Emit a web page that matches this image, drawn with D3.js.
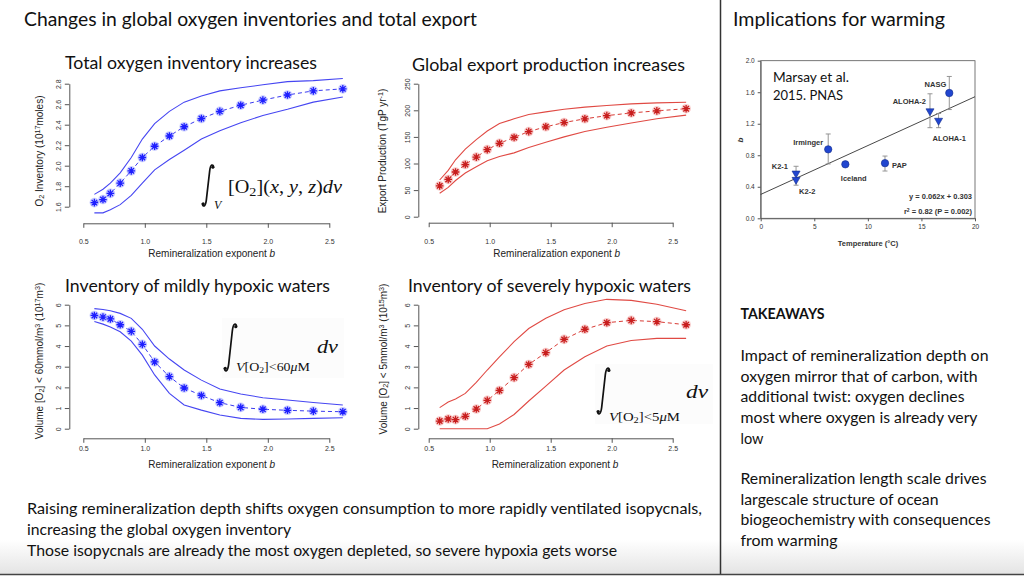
<!DOCTYPE html>
<html><head><meta charset="utf-8">
<script src="https://cdn.jsdelivr.net/npm/d3@7"></script>
<style>body{margin:0;background:#fff}svg{display:block}</style>
</head><body>
<svg id="s" width="1024" height="576"></svg>
<script>
// ---------- data ----------
const bValues = [0.59, 0.66, 0.72, 0.80, 0.89, 0.98, 1.08, 1.20, 1.32, 1.46, 1.61, 1.78, 1.96, 2.16, 2.37, 2.61];
const bTicks = [0.5, 1.0, 1.5, 2.0, 2.5];

const o2Mean  = [1.64, 1.67, 1.73, 1.83, 1.95, 2.08, 2.19, 2.29, 2.38, 2.46, 2.53, 2.59, 2.64, 2.69, 2.73, 2.75];
const o2Upper = [1.72, 1.77, 1.83, 1.93, 2.08, 2.26, 2.41, 2.53, 2.62, 2.68, 2.73, 2.76, 2.79, 2.82, 2.83, 2.85];
const o2Lower = [1.54, 1.54, 1.57, 1.62, 1.71, 1.83, 1.96, 2.06, 2.15, 2.26, 2.34, 2.42, 2.49, 2.55, 2.62, 2.67];
const o2Ticks = [1.6, 1.8, 2.0, 2.2, 2.4, 2.6, 2.8];

const exportMean  = [58, 70, 84, 98, 112, 126, 138, 149, 160, 169, 177, 184, 190, 195, 199, 203];
const exportUpper = [69, 87, 107, 127, 145, 161, 175, 184, 192, 197, 202, 206, 209, 212, 214, 215];
const exportLower = [44, 55, 68, 82, 94, 105, 113, 120, 130, 140, 150, 160, 168, 176, 184, 191];
const exportTicks = [0, 50, 100, 150, 200, 250];

const mildMean  = [5.48, 5.40, 5.31, 5.03, 4.71, 4.08, 3.23, 2.52, 1.97, 1.61, 1.26, 1.03, 0.94, 0.89, 0.85, 0.82];
const mildUpper = [5.81, 5.77, 5.71, 5.58, 5.34, 4.81, 4.00, 3.37, 2.84, 2.35, 1.92, 1.68, 1.50, 1.39, 1.27, 1.15];
const mildLower = [5.19, 5.06, 4.92, 4.69, 4.24, 3.56, 2.60, 1.71, 1.15, 0.90, 0.66, 0.50, 0.45, 0.47, 0.50, 0.53];

const severeMean  = [0.37, 0.47, 0.44, 0.60, 0.95, 1.37, 1.85, 2.47, 3.11, 3.68, 4.32, 4.81, 5.13, 5.24, 5.18, 5.03];
const severeUpper = [1.02, 1.29, 1.44, 1.71, 2.24, 2.84, 3.47, 4.21, 4.85, 5.34, 5.76, 6.06, 6.26, 6.21, 6.02, 5.71];
const severeLower = [0.00, 0.00, 0.00, 0.00, 0.00, 0.00, 0.23, 0.69, 1.34, 2.06, 2.84, 3.48, 4.00, 4.27, 4.37, 4.37];
const volTicks = [0, 1, 2, 3, 4, 5, 6];

const sites   = ["K2-1", "K2-2", "Irminger", "Iceland", "PAP", "ALOHA-2", "ALOHA-1", "NASG"];
const temps   = [3.3, 3.3, 6.3, 7.9, 11.6, 15.8, 16.6, 17.6];
const bObs    = [0.57, 0.49, 0.875, 0.685, 0.70, 1.36, 1.24, 1.59];
const errHi   = [0.66, null, 1.07, null, 0.79, 1.58, 1.33, 1.80];
const errLo   = [null, 0.42, 0.69, null, 0.60, 1.15, 1.15, 1.38];
const siteShape = ["tri", "tri", "circle", "circle", "circle", "tri", "tri", "circle"];
const tempTicks = [0, 5, 10, 15, 20];
const bObsTicks = [0.0, 0.4, 0.8, 1.2, 1.6, 2.0];
const fitSlope = 0.062, fitIntercept = 0.303;

// ---------- layout / style ----------
const svg = d3.select('#s');
const SLIDE_FONT = 'Lato, "Open Sans", sans-serif';
const PLOT_FONT = '"Liberation Sans", Arial, sans-serif';
const SERIF = '"Liberation Serif", "DejaVu Serif", serif';

const defs = svg.append('defs');
const grad = defs.append('linearGradient').attr('id', 'bg').attr('x1', 0).attr('y1', 0).attr('x2', 0).attr('y2', 1);
grad.append('stop').attr('offset', '0%').attr('stop-color', '#ffffff');
grad.append('stop').attr('offset', '100%').attr('stop-color', '#e4e4e4');
svg.append('rect').attr('width', 1024).attr('height', 576).attr('fill', '#fff');
svg.append('rect').attr('x', 0).attr('y', 540).attr('width', 1024).attr('height', 34).attr('fill', 'url(#bg)');
svg.append('line').attr('x1', 720.5).attr('x2', 720.5).attr('y1', 0).attr('y2', 574).attr('stroke', '#333').attr('stroke-width', 1.5);
svg.append('line').attr('x1', 0).attr('x2', 1024).attr('y1', 574.5).attr('y2', 574.5).attr('stroke', '#444').attr('stroke-width', 1.5);

function slideText(x, y, str, size, width, weight) {
  const t = svg.append('text').attr('x', x).attr('y', y)
    .attr('font-family', SLIDE_FONT).attr('font-size', size).attr('fill', '#111')
    .attr('font-weight', weight || 'normal').text(str);
  if (width) t.attr('textLength', width).attr('lengthAdjust', 'spacingAndGlyphs');
  return t;
}

// main titles
slideText(24, 26, 'Changes in global oxygen inventories and total export', 19.5, 453);
slideText(733, 26, 'Implications for warming', 19.5, 212);

// panel titles
slideText(65, 69, 'Total oxygen inventory increases', 18, 252);
slideText(412, 70.5, 'Global export production increases', 18, 273);
slideText(65, 292, 'Inventory of mildly hypoxic waters', 18, 265);
slideText(408, 292, 'Inventory of severely hypoxic waters', 18, 283);

// bottom text
slideText(27, 514, 'Raising remineralization depth shifts oxygen consumption to more rapidly ventilated isopycnals,', 16, 675);
slideText(27, 535, 'increasing the global oxygen inventory', 16, 264);
slideText(27, 556, 'Those isopycnals are already the most oxygen depleted, so severe hypoxia gets worse', 16, 590);

// takeaways
slideText(740.5, 319, 'TAKEAWAYS', 15.5, 84, 'bold');
const takeaway1 = ['Impact of remineralization depth on', 'oxygen mirror that of carbon, with', 'additional twist: oxygen declines', 'most where oxygen is already very', 'low'];
const takeaway1W = [248, 237, 224, 237, 23];
const takeaway2 = ['Remineralization length scale drives', 'largescale structure of ocean', 'biogeochemistry with consequences', 'from warming'];
const takeaway2W = [246, 198, 250, 97];
takeaway1.forEach((s, i) => slideText(740.5, 361 + i * 20.7, s, 16, takeaway1W[i]));
takeaway2.forEach((s, i) => slideText(740.5, 484 + i * 20.7, s, 16, takeaway2W[i]));

// ---------- panels ----------
const BLUE = { env: '#4646f2', mean: '#3a3af0', mark: '#1e1eff', halo: '#9fa6ff' };
const RED  = { env: '#e04a44', mean: '#d83a34', mark: '#c81e1e', halo: '#f2a2a0' };

const panels = [
  { mean: o2Mean, upper: o2Upper, lower: o2Lower, ticks: o2Ticks, fmt: d3.format('.1f'), col: BLUE,
    xl: 83.3, xr: 329.3, yAxisX: 69.3, xAxisY: 223.3, yb: 206.7, yt: 83.7, pad: 11.5,
    ylab: [['O', 0], ['2', -1], [' Inventory (10', 0], ['17', 1], ['moles)', 0]], ylx: 43, yly: 151,
    xlx: 211.7, xly: 256.5 },
  { mean: exportMean, upper: exportUpper, lower: exportLower, ticks: exportTicks, fmt: d3.format('d'), col: RED,
    xl: 428.7, xr: 672.7, yAxisX: 418.3, xAxisY: 222.7, yb: 216.7, yt: 83.7, pad: 11.5,
    ylab: [['Export Production (TgP yr', 0], ['-1', 1], [')', 0]], ylx: 386, yly: 151,
    xlx: 556.7, xly: 256.5 },
  { mean: mildMean, upper: mildUpper, lower: mildLower, ticks: volTicks, fmt: d3.format('d'), col: BLUE,
    xl: 83.3, xr: 329.3, yAxisX: 69.3, xAxisY: 438.3, yb: 428.7, yt: 304.7, pad: 3.5,
    ylab: [['Volume [O', 0], ['2', -1], ['] < 60mmol/m', 0], ['3', 1], [' (10', 0], ['17', 1], ['m', 0], ['3', 1], [')', 0]], ylx: 42.5, yly: 361,
    xlx: 211.7, xly: 468.3 },
  { mean: severeMean, upper: severeUpper, lower: severeLower, ticks: volTicks, fmt: d3.format('d'), col: RED,
    xl: 428.7, xr: 672.7, yAxisX: 418.3, xAxisY: 438.3, yb: 428.7, yt: 304.7, pad: 3.5,
    ylab: [['Volume [O', 0], ['2', -1], ['] < 5mmol/m', 0], ['3', 1], [' (10', 0], ['15', 1], ['m', 0], ['3', 1], [')', 0]], ylx: 386.5, yly: 359,
    xlx: 555, xly: 468.3 }
];

function richText(g, parts, size) {
  parts.forEach(([s, level]) => {
    const ts = g.append('tspan').text(s);
    if (level !== 0) {
      ts.attr('font-size', size * 0.72).attr('baseline-shift', level > 0 ? '45%' : '-20%');
    }
  });
}

const asterisk = (r) => {
  const a = r * 0.72;
  return `M${-r},0L${r},0M0,${-r}L0,${r}M${-a},${-a}L${a},${a}M${-a},${a}L${a},${-a}`;
};

panels.forEach(p => {
  const x = d3.scaleLinear().domain([bTicks[0], bTicks[bTicks.length - 1]]).range([p.xl, p.xr]);
  const y = d3.scaleLinear().domain([p.ticks[0], p.ticks[p.ticks.length - 1]]).range([p.yb, p.yt]);
  const g = svg.append('g');

  const gx = g.append('g').attr('transform', `translate(0,${p.xAxisY})`)
    .call(d3.axisBottom(x).tickValues(bTicks).tickFormat(d3.format('.1f')).tickSize(4.5).tickSizeOuter(0).tickPadding(p.pad));
  const gy = g.append('g').attr('transform', `translate(${p.yAxisX},0)`)
    .call(d3.axisLeft(y).tickValues(p.ticks).tickFormat(p.fmt).tickSize(4.5).tickSizeOuter(0));
  [gx, gy].forEach(a => {
    a.select('.domain').attr('stroke', '#555').attr('stroke-width', 1);
    a.selectAll('.tick line').attr('stroke', '#555');
    a.selectAll('.tick text').attr('font-family', PLOT_FONT).attr('font-size', 7).attr('fill', '#333');
  });
  gy.selectAll('.tick text').attr('x', null).attr('dy', null)
    .attr('text-anchor', 'middle').attr('transform', 'translate(-8.5,0) rotate(-90)');

  const xt = g.append('text').attr('x', p.xlx).attr('y', p.xly).attr('text-anchor', 'middle')
    .attr('font-family', PLOT_FONT).attr('font-size', 10).attr('fill', '#222');
  xt.append('tspan').text('Remineralization exponent ');
  xt.append('tspan').attr('font-style', 'italic').text('b');

  const yt = g.append('text').attr('text-anchor', 'middle')
    .attr('transform', `translate(${p.ylx},${p.yly}) rotate(-90)`)
    .attr('font-family', PLOT_FONT).attr('font-size', 10).attr('fill', '#222');
  richText(yt, p.ylab, 10);

  const line = d3.line().x((d, i) => x(bValues[i])).y(d => y(d));
  g.append('path').datum(p.upper).attr('d', line).attr('fill', 'none').attr('stroke', p.col.env).attr('stroke-width', 1.1);
  g.append('path').datum(p.lower).attr('d', line).attr('fill', 'none').attr('stroke', p.col.env).attr('stroke-width', 1.1);
  g.append('path').datum(p.mean).attr('d', line).attr('fill', 'none').attr('stroke', p.col.mean)
    .attr('stroke-width', 1).attr('stroke-dasharray', '4,3');

  const mk = g.selectAll('.mk').data(p.mean).enter().append('g')
    .attr('transform', (d, i) => `translate(${x(bValues[i])},${y(d)})`);
  mk.append('circle').attr('r', 4.8).attr('fill', p.col.halo).attr('opacity', 0.55);
  mk.append('path').attr('d', asterisk(3.8)).attr('stroke', p.col.mark).attr('stroke-width', 1.3).attr('fill', 'none');
});

// ---------- integral formulas ----------
function integralSign(x0, y0, x1, y1) {
  const w = x1 - x0, h = y1 - y0;
  const X = f => x0 + f * w, Y = f => y0 + f * h;
  const d = `M${X(0.97)},${Y(0.075)} C${X(0.93)},${Y(0.0)} ${X(0.72)},${Y(-0.01)} ${X(0.64)},${Y(0.16)}` +
            ` L${X(0.36)},${Y(0.84)} C${X(0.28)},${Y(1.01)} ${X(0.07)},${Y(1.0)} ${X(0.03)},${Y(0.925)}`;
  svg.append('path').attr('d', d).attr('fill', 'none').attr('stroke', '#111').attr('stroke-width', 1.7).attr('stroke-linecap', 'round');
  svg.append('circle').attr('cx', X(0.9)).attr('cy', Y(0.075)).attr('r', 1.5).attr('fill', '#111');
  svg.append('circle').attr('cx', X(0.1)).attr('cy', Y(0.925)).attr('r', 1.5).attr('fill', '#111');
}
function mathText(x, y, parts, size, width) {
  const t = svg.append('text').attr('x', x).attr('y', y).attr('font-family', SERIF).attr('font-size', size).attr('fill', '#111');
  parts.forEach(([s, it, level]) => {
    const ts = t.append('tspan').text(s);
    if (it) ts.attr('font-style', 'italic');
    if (level) ts.attr('font-size', size * 0.7).attr('baseline-shift', level > 0 ? '40%' : '-22%');
  });
  if (width) t.attr('textLength', width).attr('lengthAdjust', 'spacingAndGlyphs');
  return t;
}
// total inventory
integralSign(202, 164, 214, 207);
mathText(214, 208.5, [['V', true, 0]], 12);
mathText(228, 193, [['[O', false, 0], ['2', false, -1], ['](', false, 0], ['x', true, 0], [', ', false, 0], ['y', true, 0], [', ', false, 0], ['z', true, 0], [')', false, 0], ['dv', true, 0]], 18, 114);
// mildly hypoxic
svg.append('rect').attr('x', 222).attr('y', 318).attr('width', 122).attr('height', 60).attr('fill', '#fcfcfc');
integralSign(224, 323, 237, 372);
mathText(236, 371, [['V', true, 0], ['[O', false, 0], ['2', false, -1], [']<60', false, 0], ['μ', true, 0], ['M', false, 0]], 11.5, 74);
mathText(317, 353, [['dv', true, 0]], 19, 21);
// severely hypoxic
svg.append('rect').attr('x', 595).attr('y', 364).attr('width', 118).attr('height', 60).attr('fill', '#fcfcfc');
integralSign(597, 367, 610, 415);
mathText(609, 421, [['V', true, 0], ['[O', false, 0], ['2', false, -1], [']<5', false, 0], ['μ', true, 0], ['M', false, 0]], 11.5, 71);
mathText(686, 398, [['dv', true, 0]], 19, 22);

// ---------- scatter (Marsay et al.) ----------
const sx = d3.scaleLinear().domain([tempTicks[0], tempTicks[tempTicks.length - 1]]).range([760.7, 975]);
const sy = d3.scaleLinear().domain([bObsTicks[0], bObsTicks[bObsTicks.length - 1]]).range([218.3, 60.7]);
const sg = svg.append('g');
sg.append('rect').attr('x', sx(0)).attr('y', sy(2)).attr('width', sx(20) - sx(0)).attr('height', sy(0) - sy(2))
  .attr('fill', 'none').attr('stroke', '#555').attr('stroke-width', 0.8);
const sax = sg.append('g').attr('transform', `translate(0,${sy(0)})`)
  .call(d3.axisBottom(sx).tickValues(tempTicks).tickSize(3).tickSizeOuter(0).tickPadding(3));
const say = sg.append('g').attr('transform', `translate(${sx(0)},0)`)
  .call(d3.axisLeft(sy).tickValues(bObsTicks).tickFormat(d3.format('.1f')).tickSize(3).tickSizeOuter(0).tickPadding(3));
[sax, say].forEach(a => {
  a.select('.domain').attr('stroke', '#555').attr('stroke-width', 0.8);
  a.selectAll('.tick line').attr('stroke', '#555');
  a.selectAll('.tick text').attr('font-family', PLOT_FONT).attr('font-size', 6.5).attr('fill', '#333');
});
sg.append('text').attr('x', 868).attr('y', 246).attr('text-anchor', 'middle')
  .attr('font-family', PLOT_FONT).attr('font-size', 7.5).attr('font-weight', 'bold').attr('fill', '#333').text('Temperature (°C)');
sg.append('text').attr('transform', `translate(742.5,140) rotate(-90)`).attr('text-anchor', 'middle')
  .attr('font-family', PLOT_FONT).attr('font-size', 8).attr('font-weight', 'bold').attr('font-style', 'italic').attr('fill', '#333').text('b');

sg.append('line').attr('x1', sx(0)).attr('y1', sy(fitIntercept)).attr('x2', sx(20)).attr('y2', sy(fitIntercept + fitSlope * 20))
  .attr('stroke', '#333').attr('stroke-width', 0.9);

sites.forEach((s, i) => {
  const cx = sx(temps[i]);
  const hi = errHi[i] != null ? errHi[i] : bObs[i];
  const lo = errLo[i] != null ? errLo[i] : bObs[i];
  if (hi === lo) return;
  sg.append('line').attr('x1', cx).attr('x2', cx).attr('y1', sy(hi)).attr('y2', sy(lo)).attr('stroke', '#8a8a8a').attr('stroke-width', 0.9);
  if (errHi[i] != null) sg.append('line').attr('x1', cx - 2.5).attr('x2', cx + 2.5).attr('y1', sy(hi)).attr('y2', sy(hi)).attr('stroke', '#8a8a8a').attr('stroke-width', 0.9);
  if (errLo[i] != null) sg.append('line').attr('x1', cx - 2.5).attr('x2', cx + 2.5).attr('y1', sy(lo)).attr('y2', sy(lo)).attr('stroke', '#8a8a8a').attr('stroke-width', 0.9);
});
sites.forEach((s, i) => {
  const cx = sx(temps[i]), cy = sy(bObs[i]);
  if (siteShape[i] === 'circle') {
    sg.append('circle').attr('cx', cx).attr('cy', cy).attr('r', 3.7).attr('fill', '#2146d0').attr('stroke', '#132c8a').attr('stroke-width', 0.6);
  } else {
    sg.append('path').attr('d', d3.symbol().type(d3.symbolTriangle).size(28)())
      .attr('transform', `translate(${cx},${cy}) rotate(180)`)
      .attr('fill', '#2146d0').attr('stroke', '#132c8a').attr('stroke-width', 0.6);
  }
});
const labelOffset = { 'K2-1': [-8, -4, 'end'], 'K2-2': [3, 14, 'start'], 'Irminger': [-5, -4, 'end'], 'Iceland': [-4.5, 17, 'start'],
  'PAP': [7, 5, 'start'], 'ALOHA-2': [-4, -7, 'end'], 'ALOHA-1': [-6, 20, 'start'], 'NASG': [-3, -6.5, 'end'] };
sites.forEach((s, i) => {
  const o = labelOffset[s];
  sg.append('text').attr('x', sx(temps[i]) + o[0]).attr('y', sy(bObs[i]) + o[1]).attr('text-anchor', o[2])
    .attr('font-family', PLOT_FONT).attr('font-size', 7.5).attr('font-weight', 'bold').attr('fill', '#333').text(s);
});
sg.append('text').attr('x', 773).attr('y', 82).attr('font-family', SLIDE_FONT).attr('font-size', 12.5).attr('fill', '#111')
  .attr('textLength', 76).attr('lengthAdjust', 'spacingAndGlyphs').text('Marsay et al.');
sg.append('text').attr('x', 773).attr('y', 99.5).attr('font-family', SLIDE_FONT).attr('font-size', 12.5).attr('fill', '#111')
  .attr('textLength', 70).attr('lengthAdjust', 'spacingAndGlyphs').text('2015. PNAS');
sg.append('text').attr('x', 972).attr('y', 198.5).attr('text-anchor', 'end').attr('font-family', PLOT_FONT)
  .attr('font-size', 7.5).attr('font-weight', 'bold').attr('fill', '#333').text('y = 0.062x + 0.303');
const r2 = sg.append('text').attr('x', 972).attr('y', 214).attr('text-anchor', 'end').attr('font-family', PLOT_FONT)
  .attr('font-size', 7.5).attr('font-weight', 'bold').attr('fill', '#333');
r2.append('tspan').text('r');
r2.append('tspan').attr('font-size', 5).attr('baseline-shift', '45%').text('2');
r2.append('tspan').text(' = 0.82 (P = 0.002)');
</script>
</body></html>
